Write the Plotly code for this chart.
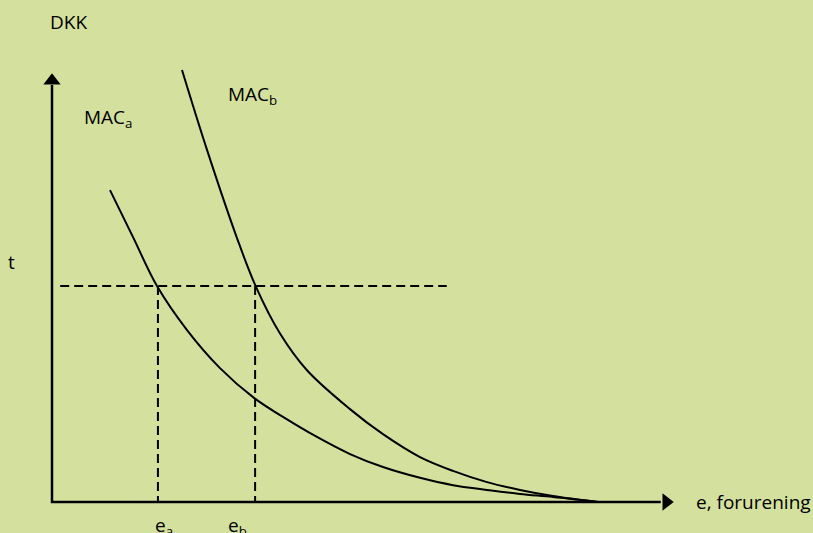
import plotly.graph_objects as go

# ---- data (e = pollution units, DKK = cost units) ----
mac_a_e = [10.62, 14.84, 19.23, 24.73, 30.77, 36.99, 42.31, 48.53, 54.58, 60.62, 67.40, 73.44, 79.67, 85.71, 91.76, 100.0]
mac_a_dkk = [72.2, 61.3, 50.0, 39.8, 31.0, 24.1, 19.7, 15.05, 11.1, 8.1, 5.6, 3.9, 2.8, 1.85, 1.15, 0.0]

mac_b_e = [23.81, 28.39, 33.88, 37.36, 41.76, 46.70, 54.58, 60.62, 67.40, 73.44, 79.67, 85.71, 91.76, 100.0]
mac_b_dkk = [100.0, 81.5, 61.1, 49.8, 39.0, 30.5, 21.5, 15.7, 10.4, 7.2, 4.6, 2.8, 1.4, 0.0]

t_level = 50.0
e_a = 19.4
e_b = 37.2
t_line_e = [1.5, 72.3]

x_axis_end = 112.5
y_axis_end = 97.5

BG = "rgb(212,225,158)"
FONT = "Open Sans"
FS = 19

fig = go.Figure()

# curves
fig.add_trace(go.Scatter(x=mac_a_e, y=mac_a_dkk, mode="lines",
                         line=dict(color="black", width=2, shape="spline", smoothing=1.0)))
fig.add_trace(go.Scatter(x=mac_b_e, y=mac_b_dkk, mode="lines",
                         line=dict(color="black", width=2, shape="spline", smoothing=1.0)))

# dashed guides
dash = "9px,5px"
fig.add_trace(go.Scatter(x=t_line_e, y=[t_level, t_level], mode="lines",
                         line=dict(color="black", width=2, dash=dash)))
fig.add_trace(go.Scatter(x=[e_a, e_a], y=[t_level, 0], mode="lines",
                         line=dict(color="black", width=2, dash=dash)))
fig.add_trace(go.Scatter(x=[e_b, e_b], y=[t_level, 0], mode="lines",
                         line=dict(color="black", width=2, dash=dash)))

# axes with arrowheads
fig.add_trace(go.Scatter(x=[0, 0, x_axis_end - 1], y=[y_axis_end - 1, 0, 0], mode="lines",
                         line=dict(color="black", width=2.5)))
fig.add_trace(go.Scatter(x=[x_axis_end], y=[0], mode="markers", cliponaxis=False,
                         marker=dict(symbol="triangle-right", size=15, color="black")))
fig.add_trace(go.Scatter(x=[0], y=[y_axis_end], mode="markers", cliponaxis=False,
                         marker=dict(symbol="triangle-up", size=15, color="black")))

ann = [
    dict(x=-0.7, y=111.2, text="DKK", xanchor="left", yanchor="middle"),
    dict(x=5.5, y=89.0, text="MAC<sub>a</sub>", xanchor="left", yanchor="middle"),
    dict(x=31.9, y=94.2, text="MAC<sub>b</sub>", xanchor="left", yanchor="middle"),
    dict(x=-7.33, y=55.5, text="t", xanchor="center", yanchor="middle"),
    dict(x=18.5, y=-5.6, text="e<sub>a</sub>", xanchor="left", yanchor="middle"),
    dict(x=31.9, y=-5.6, text="e<sub>b</sub>", xanchor="left", yanchor="middle"),
    dict(x=117.6, y=0.0, text="e, forurening", xanchor="left", yanchor="middle"),
]
for a in ann:
    a.update(showarrow=False, xref="x", yref="y", font=dict(family=FONT, size=FS, color="black"))

fig.update_layout(
    width=813, height=533, autosize=False,
    margin=dict(l=0, r=0, t=0, b=0, pad=0),
    paper_bgcolor=BG, plot_bgcolor=BG,
    showlegend=False,
    hovermode=False,
    annotations=ann,
    xaxis=dict(range=[-9.524, 139.377], visible=False, fixedrange=True),
    yaxis=dict(range=[-7.176, 116.204], visible=False, fixedrange=True),
)

fig.write_html("out.html", config={"displayModeBar": False, "staticPlot": True},
               post_script="document.body.style.margin='0';document.body.style.background='" + BG + "';")
